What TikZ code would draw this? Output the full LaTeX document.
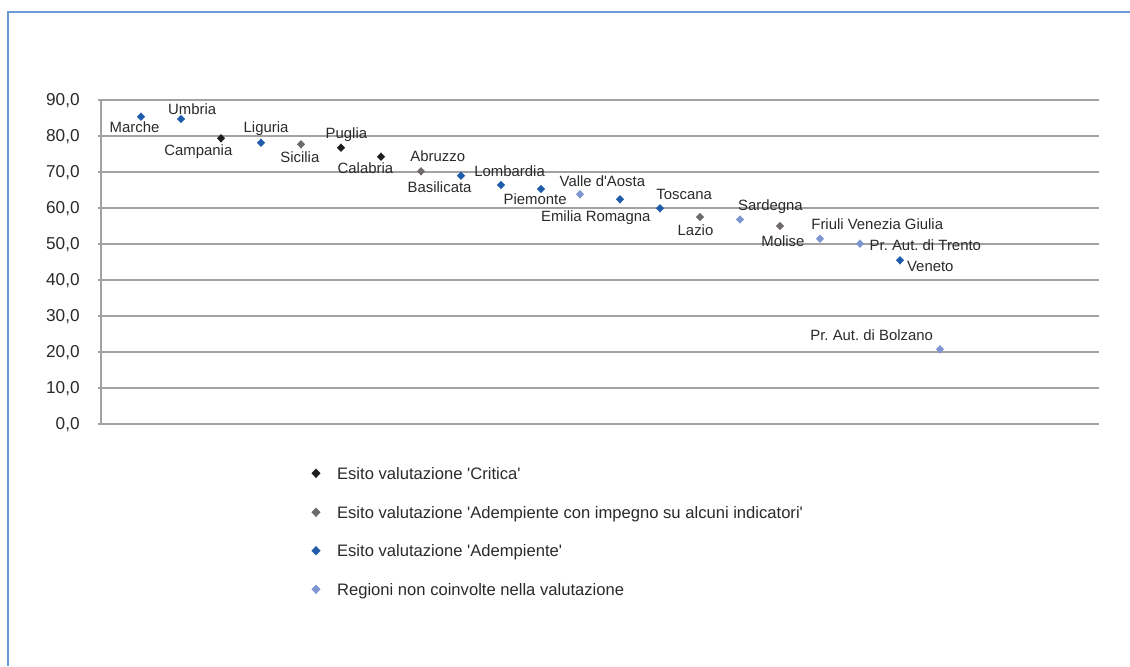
\documentclass[tikz,border=0pt]{standalone}
\usepackage{fontspec}
\setmainfont{Liberation Sans}
\usetikzlibrary{shapes.geometric}
\definecolor{critc}{HTML}{1E1E1E}
\definecolor{impc}{HTML}{6E6A6A}
\definecolor{ademc}{HTML}{1F5CAA}
\definecolor{nonc}{HTML}{7E96D0}
\definecolor{gridc}{HTML}{A3A1A1}
\definecolor{framec}{HTML}{6A9AD8}
\definecolor{textc}{HTML}{2A2A2A}
\frenchspacing
\begin{document}
\begin{tikzpicture}[x=0.5pt,y=-0.5pt,
  dpt/.style={shape=diamond, fill=#1, draw=none, inner sep=0pt, minimum width=4.2pt, minimum height=4.4pt},
  lpt/.style={shape=diamond, fill=#1, draw=none, inner sep=0pt, minimum width=4.7pt, minimum height=4.9pt},
  lab/.style={anchor=base west, inner sep=0pt, font=\fontsize{7.45}{8}\selectfont, text=textc},
  axlab/.style={anchor=east, inner sep=0pt, font=\fontsize{8.6}{9}\selectfont, text=textc},
  leglab/.style={anchor=base west, inner sep=0pt, font=\fontsize{8.3}{9}\selectfont, text=textc},
  gridline/.style={draw=gridc, line width=1pt},
  framel/.style={draw=framec, line width=0.8pt}]
\useasboundingbox (0,0) rectangle (1130,666);
% frame
\draw[framel] (8,666) -- (8,12) -- (1130,12);
% grid and axis labels
\foreach \v in {0,10,...,90} {
  \draw[gridline] (97.5,{424-3.6*\v}) -- (1099,{424-3.6*\v});
  \node[axlab] (ax\v) at (80,{425-3.6*\v}) {\v,0};
}
\draw[gridline] (101,100) -- (101,424);
% data points
\node[dpt=ademc] (pMarche) at (141,116.7) {};
\node[dpt=ademc] (pUmbria) at (181,119) {};
\node[dpt=critc] (pCampania) at (221,138.3) {};
\node[dpt=ademc] (pLiguria) at (261,142.7) {};
\node[dpt=impc] (pSicilia) at (301,144.3) {};
\node[dpt=critc] (pPuglia) at (341,147.7) {};
\node[dpt=critc] (pCalabria) at (381,156.7) {};
\node[dpt=impc] (pAbruzzo) at (421,171.3) {};
\node[dpt=ademc] (pBasilicata) at (461,175.7) {};
\node[dpt=ademc] (pLombardia) at (501,185) {};
\node[dpt=ademc] (pPiemonte) at (541,189) {};
\node[dpt=nonc] (pValle) at (580,194.3) {};
\node[dpt=ademc] (pEmilia) at (620,199.3) {};
\node[dpt=ademc] (pToscana) at (660,208.3) {};
\node[dpt=impc] (pLazio) at (700,217) {};
\node[dpt=nonc] (pSardegna) at (740,219.5) {};
\node[dpt=impc] (pMolise) at (780,226) {};
\node[dpt=nonc] (pFriuli) at (820,238.7) {};
\node[dpt=nonc] (pTrento) at (860,243.7) {};
\node[dpt=ademc] (pVeneto) at (900,260.3) {};
\node[dpt=nonc] (pBolzano) at (940,349.3) {};
% data labels
\node[lab] (lMarche) at (109.3,132.7) {Marche};
\node[lab] (lUmbria) at (167.7,114) {Umbria};
\node[lab] (lCampania) at (164,155) {Campania};
\node[lab] (lLiguria) at (243.3,132.5) {Liguria};
\node[lab] (lSicilia) at (280,162.7) {Sicilia};
\node[lab] (lPuglia) at (325.3,138.7) {Puglia};
\node[lab] (lCalabria) at (337.3,173.3) {Calabria};
\node[lab] (lAbruzzo) at (410,161) {Abruzzo};
\node[lab] (lBasilicata) at (407.3,192.7) {Basilicata};
\node[lab] (lLombardia) at (474,176.7) {Lombardia};
\node[lab] (lPiemonte) at (503.3,204.3) {Piemonte};
\node[lab] (lValle) at (559.3,186.7) {Valle d\textquotesingle Aosta};
\node[lab] (lEmilia) at (540.7,221) {Emilia Romagna};
\node[lab] (lToscana) at (656,199) {Toscana};
\node[lab] (lLazio) at (677.3,235) {Lazio};
\node[lab] (lSardegna) at (737.7,210) {Sardegna};
\node[lab] (lMolise) at (761,246) {Molise};
\node[lab] (lFriuli) at (811,229.3) {Friuli Venezia Giulia};
\node[lab] (lTrento) at (869.3,250.7) {Pr. Aut. di Trento};
\node[lab] (lVeneto) at (906.7,271.7) {Veneto};
\node[lab] (lBolzano) at (810,340.7) {Pr. Aut. di Bolzano};
% legend
\node[lpt=critc] (m1) at (316,473.3) {};
\node[leglab] (t1) at (336.7,479.3) {Esito valutazione \textquotesingle Critica\textquotesingle};
\node[lpt=impc] (m2) at (316,512.3) {};
\node[leglab] (t2) at (336.7,518.1) {Esito valutazione \textquotesingle Adempiente con impegno su alcuni indicatori\textquotesingle};
\node[lpt=ademc] (m3) at (316,550.7) {};
\node[leglab] (t3) at (336.7,556.7) {Esito valutazione \textquotesingle Adempiente\textquotesingle};
\node[lpt=nonc] (m4) at (316,589.3) {};
\node[leglab] (t4) at (336.7,595) {Regioni non coinvolte nella valutazione};
\end{tikzpicture}
\end{document}
